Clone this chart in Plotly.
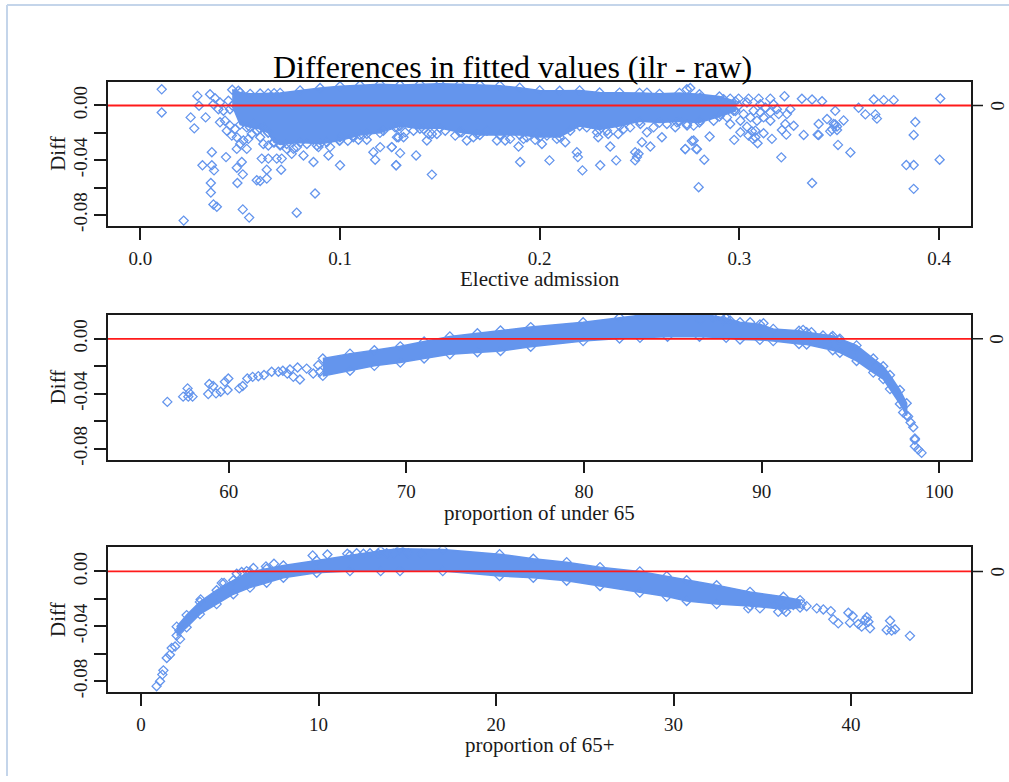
import plotly.graph_objects as go

BLUE = "#6495ED"
FONT = "Liberation Serif"
INK = "#1a1a1a"

TITLE = "Differences in fitted values (ilr - raw)"
Y_LABEL = "Diff"
X_LABELS = ["Elective admission", "proportion of under 65", "proportion of 65+"]
Y_TICKS = [0.00, -0.02, -0.04, -0.06, -0.08]
Y_TICKTEXT = ["0.00", "", "-0.04", "", "-0.08"]
REF_LEVEL = 0.0
Y_RANGE = [-0.0880, 0.0174]

# ---------------- Panel 1: Elective admission ----------------
p1_ticks = [0.0, 0.1, 0.2, 0.3, 0.4]
p1_ticktext = ["0.0", "0.1", "0.2", "0.3", "0.4"]
p1_range = [-0.0162, 0.4160]
p1_band_x = [0.046, 0.050, 0.055, 0.060, 0.064, 0.067, 0.070, 0.080, 0.090, 0.100,
             0.110, 0.120, 0.130, 0.140, 0.150, 0.160, 0.170, 0.180, 0.190, 0.200,
             0.210, 0.220, 0.230, 0.240, 0.250, 0.260, 0.270, 0.280, 0.290, 0.298]
p1_band_hi = [0.0115, 0.0095, 0.0085, 0.0087, 0.0088, 0.0090, 0.0092, 0.0110, 0.0128, 0.0140,
              0.0148, 0.0155, 0.0150, 0.0155, 0.0158, 0.0155, 0.0150, 0.0145, 0.0130, 0.0110,
              0.0107, 0.0110, 0.0095, 0.0094, 0.0092, 0.0085, 0.0092, 0.0082, 0.0065, 0.0030]
p1_band_lo = [0.0000, -0.0140, -0.0160, -0.0170, -0.0200, -0.0270, -0.0285, -0.0270, -0.0280, -0.0255,
              -0.0215, -0.0200, -0.0150, -0.0170, -0.0165, -0.0195, -0.0215, -0.0215, -0.0215, -0.0230,
              -0.0230, -0.0150, -0.0175, -0.0150, -0.0115, -0.0125, -0.0115, -0.0125, -0.0080, -0.0040]
p1_x = [0.0107, 0.0107, 0.0217, 0.0286, 0.0294, 0.0252, 0.0270, 0.0327, 0.0311, 0.0358,
        0.0358, 0.0369, 0.0353, 0.0353, 0.0366, 0.0383, 0.0429, 0.0483, 0.0486, 0.0513,
        0.0508, 0.0513, 0.0545, 0.0483, 0.0533, 0.0583, 0.0600, 0.0633, 0.0633, 0.0608,
        0.0641, 0.0683, 0.0708, 0.0705, 0.0783, 0.0875, 0.0867, 0.1000, 0.0942, 0.0817,
        0.1176, 0.1281, 0.1167, 0.1201, 0.1259, 0.1092, 0.1134, 0.0997, 0.1039, 0.0892,
        0.0950, 0.0767,
        0.0349, 0.0374, 0.0399, 0.0366, 0.0391, 0.0416, 0.0449, 0.0441, 0.0491, 0.0399,
        0.0424, 0.0449, 0.0474, 0.0433, 0.0458, 0.0483, 0.0516, 0.0500, 0.0541, 0.0558,
        0.0533, 0.0566, 0.0583, 0.0600, 0.0616, 0.0641, 0.0666, 0.0641, 0.0616, 0.0733,
        0.0758, 0.1067, 0.1285, 0.1285,
        0.1259, 0.1301, 0.1281, 0.1381, 0.1460, 0.1293, 0.1318, 0.1435, 0.1485, 0.1443,
        0.1635, 0.1668, 0.1786, 0.1827, 0.1894, 0.1902, 0.1919, 0.1977, 0.2011, 0.2049,
        0.2128, 0.2186, 0.2191, 0.2214, 0.2303, 0.2353, 0.2383, 0.2293, 0.2343, 0.2393,
        0.2478, 0.2495, 0.2478, 0.2487, 0.2512, 0.2554, 0.2537, 0.2612, 0.2679, 0.2729,
        0.2737, 0.2537,
        0.2754, 0.2796, 0.2824, 0.2729, 0.2788, 0.2762, 0.2851, 0.3210, 0.3364, 0.3226,
        0.3313, 0.3364, 0.3414, 0.3322, 0.3397, 0.3494, 0.3556, 0.3522, 0.3480, 0.3464,
        0.3489, 0.3597, 0.3631, 0.3681, 0.3689, 0.3673, 0.3723, 0.3773, 0.4006, 0.4003,
        0.3881, 0.3873, 0.3836, 0.3873, 0.3873,
        0.3472, 0.3489, 0.3455, 0.3397, 0.3392, 0.3439, 0.3480, 0.3272, 0.3235, 0.3213,
        0.3230, 0.3255, 0.3238, 0.3197, 0.3155, 0.3097, 0.3046, 0.2996, 0.2954, 0.2921,
        0.3163, 0.3121, 0.3091, 0.3068, 0.3063, 0.3038, 0.3005, 0.2974, 0.2771, 0.2784,
        0.3121, 0.3105, 0.3071, 0.3155, 0.3130, 0.3171, 0.3105, 0.3055, 0.3021, 0.2971,
        0.2938, 0.2904, 0.2871, 0.2804, 0.2771, 0.2738, 0.3088, 0.3005, 0.2954, 0.2921,
        0.3038, 0.2996, 0.2888, 0.2846, 0.2804, 0.3155, 0.3188, 0.3080, 0.3046, 0.3080,
        0.1276, 0.1326, 0.1368, 0.1418, 0.1460, 0.1527, 0.1577, 0.1610, 0.1685, 0.1736,
        0.1802, 0.1852, 0.1936, 0.1986, 0.2036, 0.2086, 0.2153, 0.2236, 0.2287, 0.2337,
        0.2420, 0.2453, 0.2504, 0.2570, 0.2637, 0.2687, 0.2737,
        0.0700, 0.0733, 0.0784, 0.0834, 0.0884, 0.0934, 0.1000, 0.1067, 0.1134, 0.1217]
p1_y = [0.0118, -0.0051, -0.0841, 0.0070, -0.0002, -0.0087, -0.0167, -0.0087, -0.0437, -0.0341,
        -0.0437, -0.0474, -0.0566, -0.0636, -0.0723, -0.0740, -0.0377, -0.0455, -0.0566, -0.0503,
        -0.0413, -0.0759, -0.0819, -0.0317, -0.0317, -0.0546, -0.0551, -0.0534, -0.0469, -0.0388,
        -0.0388, -0.0388, -0.0388, -0.0469, -0.0783, -0.0643, -0.0413, -0.0437, -0.0365, -0.0365,
        -0.0396, -0.0437, -0.0341, -0.0304, -0.0304, -0.0250, -0.0250, -0.0257, -0.0257, -0.0304,
        -0.0304, -0.0317,
        0.0082, 0.0053, 0.0022, 0.0009, -0.0027, -0.0038, -0.0027, 0.0034, 0.0107, -0.0123,
        -0.0111, -0.0147, -0.0172, -0.0184, -0.0220, -0.0232, -0.0256, -0.0281, -0.0244, -0.0208,
        -0.0160, -0.0135, -0.0184, -0.0232, -0.0281, -0.0292, -0.0268, -0.0196, -0.0160, -0.0317,
        -0.0353, -0.0232, -0.0232, -0.0160,
        -0.0304, -0.0348, -0.0437, -0.0365, -0.0505, -0.0232, -0.0232, -0.0256, -0.0208, -0.0208,
        -0.0256, -0.0232, -0.0256, -0.0256, -0.0300, -0.0413, -0.0244, -0.0251, -0.0281, -0.0401,
        -0.0268, -0.0341, -0.0377, -0.0474, -0.0437, -0.0300, -0.0401, -0.0232, -0.0208, -0.0208,
        -0.0341, -0.0353, -0.0401, -0.0377, -0.0268, -0.0300, -0.0196, -0.0232, -0.0159, -0.0317,
        0.0118, 0.0094,
        0.0128, -0.0597, -0.0396, -0.0319, -0.0319, -0.0259, -0.0227, -0.0379, -0.0566, 0.0068,
        0.0049, 0.0044, 0.0031, -0.0215, -0.0215, -0.0288, -0.0343, -0.0109, -0.0138, -0.0174,
        -0.0154, -0.0017, -0.0065, -0.0065, -0.0096, 0.0044, 0.0039, 0.0039, 0.0051, -0.0396,
        -0.0121, -0.0215, -0.0435, -0.0435, -0.0609,
        -0.0135, -0.0179, -0.0189, -0.0135, -0.0213, -0.0099, -0.0039, -0.0148, -0.0213, -0.0179,
        -0.0135, -0.0027, -0.0063, -0.0063, 0.0050, 0.0050, 0.0050, 0.0050, 0.0050, 0.0045,
        -0.0244, -0.0203, -0.0276, -0.0244, -0.0189, -0.0155, -0.0196, -0.0251, -0.0256, -0.0317,
        -0.0087, -0.0051, -0.0038, -0.0051, -0.0015, 0.0009, 0.0009, -0.0087, -0.0063, -0.0038,
        -0.0087, -0.0063, -0.0111, -0.0111, -0.0147, -0.0147, -0.0111, -0.0111, -0.0135, -0.0027,
        0.0022, -0.0002, 0.0009, 0.0034, 0.0058, -0.0111, -0.0027, -0.0184, -0.0220, -0.0232,
        -0.0160, -0.0196, -0.0184, -0.0172, -0.0208, -0.0184, -0.0220, -0.0196, -0.0208, -0.0184,
        -0.0220, -0.0244, -0.0232, -0.0208, -0.0220, -0.0244, -0.0184, -0.0160, -0.0196, -0.0184,
        -0.0172, -0.0160, -0.0135, -0.0160, -0.0135, -0.0123, -0.0135,
        -0.0292, -0.0281, -0.0304, -0.0281, -0.0292, -0.0268, -0.0232, -0.0220, -0.0208, -0.0184]

# ---------------- Panel 2: proportion of under 65 ----------------
p2_ticks = [60, 70, 80, 90, 100]
p2_ticktext = ["60", "70", "80", "90", "100"]
p2_range = [53.21, 101.78]
p2_band_x = [65.3, 66.83, 68.2, 69.66, 71.0, 72.45, 74.0, 75.3, 77.0, 79.95,
             82.0, 83.15, 84.7, 86.5, 88.0, 88.78, 89.9, 90.65, 92.1, 92.53,
             94.0, 94.4, 95.34, 96.28, 96.84, 97.22, 97.78, 98.16]
p2_band_hi = [-0.0144, -0.0108, -0.0084, -0.0055, -0.0020, 0.0017, 0.0040, 0.0060, 0.0085, 0.0120,
              0.0155, 0.0172, 0.0185, 0.0185, 0.0150, 0.0120, 0.0105, 0.0072, 0.0058, 0.0048,
              0.0020, 0.0000, -0.0048, -0.0144, -0.0200, -0.0264, -0.0373, -0.0469]
p2_band_lo = [-0.0270, -0.0232, -0.0197, -0.0173, -0.0143, -0.0113, -0.0098, -0.0089, -0.0058, -0.0017,
              0.0002, 0.0007, 0.0015, 0.0015, 0.0007, -0.0005, -0.0008, -0.0017, -0.0038, -0.0041,
              -0.0083, -0.0101, -0.0161, -0.0246, -0.0293, -0.0366, -0.0474, -0.0558]
p2_x = [56.55, 57.69, 57.44, 57.73, 57.97, 57.78, 58.91, 59.13, 58.85, 59.29,
        59.55, 59.79, 59.98, 59.94, 60.60, 60.79, 61.05, 61.35, 61.67, 61.99,
        62.42, 62.80, 63.05, 63.30, 63.45, 63.64, 64.01, 63.88, 64.39, 64.76,
        65.04, 65.14,
        85.78, 86.53, 87.28, 87.84, 88.22, 89.35, 90.10,
        92.33, 92.80, 93.45, 93.92, 94.35, 95.15, 95.34, 96.47,
        97.96, 98.24, 98.38, 98.53, 98.62, 98.62, 98.62, 98.81, 99.00]
p2_y = [-0.0459, -0.0361, -0.0421, -0.0421, -0.0421, -0.0392, -0.0329, -0.0344, -0.0402, -0.0397,
        -0.0385, -0.0313, -0.0289, -0.0373, -0.0361, -0.0344, -0.0289, -0.0277, -0.0272, -0.0264,
        -0.0240, -0.0240, -0.0233, -0.0253, -0.0224, -0.0277, -0.0296, -0.0209, -0.0217, -0.0253,
        -0.0192, -0.0240,
        0.0157, 0.0137, 0.0154, 0.0137, 0.0133, 0.0120, 0.0113,
        0.0065, 0.0048, 0.0024, 0.0012, -0.0007, -0.0072, -0.0084, -0.0199,
        -0.0536, -0.0565, -0.0609, -0.0643, -0.0734, -0.0725, -0.0782, -0.0806, -0.0830]

# ---------------- Panel 3: proportion of 65+ ----------------
p3_ticks = [0, 10, 20, 30, 40]
p3_ticktext = ["0", "10", "20", "30", "40"]
p3_range = [-1.86, 46.76]
p3_band_x = [2.01, 2.57, 3.32, 4.26, 5.20, 6.14, 7.08, 8.02, 9.90, 11.77,
             13.50, 14.59, 17.00, 20.20, 22.10, 23.98, 25.86, 28.10, 29.62, 30.74,
             32.43, 34.31, 36.19, 37.13]
p3_band_hi = [-0.0402, -0.0318, -0.0222, -0.0137, -0.0065, -0.0005, 0.0019, 0.0043, 0.0079, 0.0116,
              0.0150, 0.0164, 0.0160, 0.0125, 0.0092, 0.0067, 0.0031, 0.0000, -0.0035, -0.0065,
              -0.0101, -0.0149, -0.0185, -0.0209]
p3_band_lo = [-0.0467, -0.0407, -0.0311, -0.0238, -0.0166, -0.0118, -0.0082, -0.0046, -0.0010, 0.0002,
              0.0002, 0.0002, 0.0002, -0.0034, -0.0046, -0.0068, -0.0106, -0.0154, -0.0183, -0.0215,
              -0.0238, -0.0251, -0.0275, -0.0263]
p3_x = [0.88, 1.07, 1.20, 1.26, 1.45, 1.63, 1.73, 1.92, 2.20, 2.16,
        3.36, 4.55, 4.68, 5.39, 5.67, 5.95, 6.33, 7.04, 7.49, 9.67,
        10.50, 11.62, 12.15, 12.53, 12.90, 13.37, 13.84, 14.21, 14.59, 15.06,
        15.81,
        38.07, 38.44, 38.86, 39.00, 39.28, 39.85, 40.09, 39.94, 40.41, 40.60,
        40.89, 40.79, 40.98, 41.07, 42.20, 42.01, 42.29, 42.48, 43.32,
        35.90, 36.34, 36.75, 37.22, 37.50, 34.21, 34.87, 35.53, 36.00]
p3_y = [-0.0835, -0.0799, -0.0751, -0.0720, -0.0630, -0.0606, -0.0558, -0.0547, -0.0493, -0.0431,
        -0.0204, -0.0084, -0.0084, -0.0017, -0.0005, 0.0002, 0.0024, 0.0036, 0.0055, 0.0116,
        0.0123, 0.0128, 0.0132, 0.0128, 0.0132, 0.0128, 0.0132, 0.0128, 0.0157, 0.0132,
        0.0128,
        -0.0269, -0.0277, -0.0289, -0.0349, -0.0378, -0.0301, -0.0325, -0.0373, -0.0383, -0.0402,
        -0.0334, -0.0354, -0.0366, -0.0414, -0.0359, -0.0426, -0.0431, -0.0421, -0.0469,
        -0.0294, -0.0294, -0.0245, -0.0238, -0.0253, -0.0269, -0.0269, -0.0209, -0.0222]

panels = [
    (p1_x, p1_y, p1_band_x, p1_band_hi, p1_band_lo, p1_ticks, p1_ticktext, p1_range),
    (p2_x, p2_y, p2_band_x, p2_band_hi, p2_band_lo, p2_ticks, p2_ticktext, p2_range),
    (p3_x, p3_y, p3_band_x, p3_band_hi, p3_band_lo, p3_ticks, p3_ticktext, p3_range),
]

W, H = 1009, 782
X_DOM = [108 / W, 971 / W]
Y_DOMS = [
    [1 - 227.7 / H, 1 - 82.3 / H],
    [1 - 463.3 / H, 1 - 317.3 / H],
    [1 - 697.7 / H, 1 - 551.7 / H],
]
XTITLE_Y = [281.5, 517, 751]

tick_font = dict(family=FONT, size=19, color=INK)
label_font = dict(family=FONT, size=21, color=INK)
MARKER = dict(symbol="diamond-open", size=7, color=BLUE, line=dict(width=1.3, color=BLUE))

fig = go.Figure()
layout = dict(
    width=W, height=H, margin=dict(l=0, r=0, t=0, b=0),
    paper_bgcolor="white", plot_bgcolor="white", showlegend=False,
    font=dict(family=FONT, color=INK),
)
shapes = []
annotations = []

for i, (px, py, bx, bhi, blo, xt, xtt, xr) in enumerate(panels, start=1):
    sfx = "" if i == 1 else str(i)
    xa, ya = "x" + sfx, "y" + sfx
    # dense core of the point cloud (outline)
    fig.add_trace(go.Scatter(
        x=bx + bx[::-1], y=bhi + blo[::-1], mode="lines", fill="toself",
        fillcolor=BLUE, line=dict(color=BLUE, width=1.5),
        xaxis=xa, yaxis=ya, hoverinfo="skip"))
    # points on the ragged edge of the cloud
    fig.add_trace(go.Scatter(
        x=bx + bx, y=bhi + blo, mode="markers", marker=MARKER,
        xaxis=xa, yaxis=ya, hoverinfo="skip"))
    # individual scattered points
    fig.add_trace(go.Scatter(
        x=px, y=py, mode="markers", marker=MARKER, xaxis=xa, yaxis=ya))

    layout["xaxis" + sfx] = dict(
        domain=X_DOM, range=xr, anchor=ya, tickvals=xt, ticktext=xtt,
        showline=True, mirror=True, linecolor=INK, linewidth=1.5,
        ticks="outside", ticklen=12, tickwidth=1.5, tickcolor=INK,
        tickfont=tick_font, showgrid=False, zeroline=False, ticklabelstandoff=2)
    layout["yaxis" + sfx] = dict(
        domain=Y_DOMS[i - 1], range=Y_RANGE, anchor=xa,
        tickvals=Y_TICKS, ticktext=Y_TICKTEXT, tickangle=-90,
        showline=True, mirror=True, linecolor=INK, linewidth=1.5,
        ticks="outside", ticklen=12, tickwidth=1.5, tickcolor=INK,
        tickfont=tick_font, showgrid=False, zeroline=False)

    # red reference line
    shapes.append(dict(type="line", xref=xa + " domain", yref=ya,
                       x0=0, x1=1, y0=REF_LEVEL, y1=REF_LEVEL,
                       line=dict(color="#ff1a1a", width=1.8), layer="above"))
    # right-hand tick and label at the reference level
    shapes.append(dict(type="line", xref="paper", yref=ya,
                       x0=X_DOM[1], x1=X_DOM[1] + 12 / W, y0=REF_LEVEL, y1=REF_LEVEL,
                       line=dict(color=INK, width=1.5)))
    annotations.append(dict(text="0", xref="paper", yref=ya, x=X_DOM[1] + 26 / W, y=REF_LEVEL,
                            textangle=-90, xanchor="center", yanchor="middle",
                            showarrow=False, font=tick_font))
    annotations.append(dict(text=X_LABELS[i - 1], xref="paper", yref="paper",
                            x=(X_DOM[0] + X_DOM[1]) / 2, y=1 - XTITLE_Y[i - 1] / H,
                            xanchor="center", yanchor="middle", showarrow=False,
                            font=label_font))
    annotations.append(dict(text=Y_LABEL, xref="paper", yref="paper",
                            x=58 / W, y=sum(Y_DOMS[i - 1]) / 2, textangle=-90,
                            xanchor="center", yanchor="middle", showarrow=False,
                            font=label_font))

annotations.append(dict(text=TITLE, xref="paper", yref="paper", x=512 / W, y=1 - 68 / H,
                        xanchor="center", yanchor="middle", showarrow=False,
                        font=dict(family=FONT, size=32, color="black")))

# window frame of the screenshot
shapes.append(dict(type="line", xref="paper", yref="paper", x0=7 / W, x1=1, y0=1 - 5 / H, y1=1 - 5 / H,
                   line=dict(color="#c4d5ea", width=2)))
shapes.append(dict(type="line", xref="paper", yref="paper", x0=7 / W, x1=7 / W, y0=0, y1=1 - 5 / H,
                   line=dict(color="#c4d5ea", width=2)))

layout["shapes"] = shapes
layout["annotations"] = annotations
fig.update_layout(**layout)
fig.write_html("out.html")
